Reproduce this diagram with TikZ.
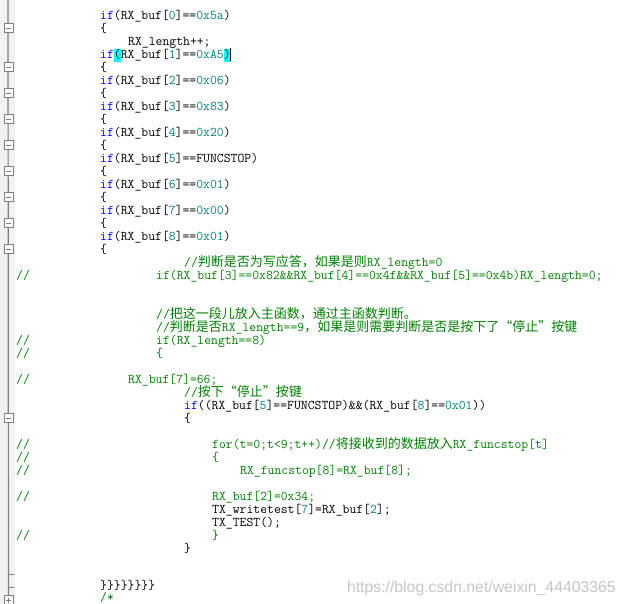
\documentclass[tikz,border=0pt]{standalone}
\usepackage{fontspec}
\newfontfamily\zhfont{Noto Sans CJK SC}[Scale=0.975]
\newfontfamily\wmfont{Liberation Sans}
\usetikzlibrary{positioning}

\definecolor{kwblue}{RGB}{0,0,255}
\definecolor{numteal}{RGB}{0,128,128}
\definecolor{cmtgreen}{RGB}{0,128,0}
\definecolor{hlcyan}{RGB}{0,255,255}
\definecolor{gutterline}{RGB}{128,128,128}
\definecolor{gutterbg}{RGB}{242,242,242}

\newcommand{\kw}[1]{\textcolor{kwblue}{#1}}
\newcommand{\nm}[1]{\textcolor{numteal}{#1}}
\newcommand{\cmt}[1]{\textcolor{cmtgreen}{#1}}
\newcommand{\zh}[1]{{\zhfont #1}}
\newcommand{\hlb}[1]{{\setlength{\fboxsep}{0pt}\colorbox{hlcyan}{\rule[-3.5pt]{0pt}{13pt}#1}}}

\begin{document}
\begin{tikzpicture}[
    x=1pt, y=-1pt,
    code/.style={anchor=base west, inner sep=0pt, text height=9.5pt, text depth=2.5pt, font=\ttfamily\fontsize{13.333pt}{13pt}\selectfont},
    fold/.style={draw=gutterline, fill=white, line width=0.9pt, minimum size=9pt, inner sep=0pt,
        path picture={\draw[gutterline, line width=0.9pt] ([xshift=2pt]path picture bounding box.west) -- ([xshift=-2pt]path picture bounding box.east);}},
    unfold/.style={fold, path picture={\draw[gutterline, line width=0.9pt] ([xshift=2pt]path picture bounding box.west) -- ([xshift=-2pt]path picture bounding box.east) ([yshift=-2pt]path picture bounding box.north) -- ([yshift=2pt]path picture bounding box.south);}},
    watermark/.style={anchor=base east, inner sep=0pt, text=gray!45, font=\wmfont\fontsize{15.8pt}{16pt}\selectfont},
]
\useasboundingbox (0,0) rectangle (623,604);
\fill[white] (0,0) rectangle (623,604);

% Gutter
\fill[gutterbg] (0,0) rectangle (15,604);
\coordinate (guttertop) at (8,0);
\node[unfold] (f45) at (8.5,600) {};
\draw[gutterline, line width=1.2pt] (guttertop) -- (f45.north);
\node[fold] (f1) at (8.5,28) {};
\node[fold] (f4) at (8.5,67) {};
\node[fold] (f6) at (8.5,93) {};
\node[fold] (f8) at (8.5,119) {};
\node[fold] (f10) at (8.5,145) {};
\node[fold] (f12) at (8.5,171) {};
\node[fold] (f14) at (8.5,197) {};
\node[fold] (f16) at (8.5,223) {};
\node[fold] (f18) at (8.5,249) {};
\node[fold] (f31) at (8.5,418) {};
\coordinate (t43) at (8,574);
\coordinate (t44) at (8,587);
\draw[gutterline, line width=0.9pt] (t43) -- ++(6,0) (t44) -- ++(6,0);

% Code lines
\node[code] (l0) at (100,19.5) {\kw{if}(RX\_buf[\nm{0}]==\nm{0x5a})};
\node[code] (l1) at (100,32.5) {\{};
\node[code] (l2) at (128,45.5) {RX\_length++;};
\node[code] (l3) at (100,58.5) {\kw{if}\hlb{(}RX\_buf[\nm{1}]==\nm{0xA5}\hlb{)}};
\node[code] (l4) at (100,71.5) {\{};
\node[code] (l5) at (100,84.5) {\kw{if}(RX\_buf[\nm{2}]==\nm{0x06})};
\node[code] (l6) at (100,97.5) {\{};
\node[code] (l7) at (100,110.5) {\kw{if}(RX\_buf[\nm{3}]==\nm{0x83})};
\node[code] (l8) at (100,123.5) {\{};
\node[code] (l9) at (100,136.5) {\kw{if}(RX\_buf[\nm{4}]==\nm{0x20})};
\node[code] (l10) at (100,149.5) {\{};
\node[code] (l11) at (100,162.5) {\kw{if}(RX\_buf[\nm{5}]==FUNCSTOP)};
\node[code] (l12) at (100,175.5) {\{};
\node[code] (l13) at (100,188.5) {\kw{if}(RX\_buf[\nm{6}]==\nm{0x01})};
\node[code] (l14) at (100,201.5) {\{};
\node[code] (l15) at (100,214.5) {\kw{if}(RX\_buf[\nm{7}]==\nm{0x00})};
\node[code] (l16) at (100,227.5) {\{};
\node[code] (l17) at (100,240.5) {\kw{if}(RX\_buf[\nm{8}]==\nm{0x01})};
\node[code] (l18) at (100,253.5) {\{};
\node[code] (l19) at (184,266.5) {\cmt{//\zh{判断是否为写应答，如果是则}RX\_length=0}};
\node[code] (c20) at (16,279.5) {\cmt{//}};
\node[code] (l20) at (156,279.5) {\cmt{if(RX\_buf[3]==0x82\&\&RX\_buf[4]==0x4f\&\&RX\_buf[5]==0x4b)RX\_length=0;}};
\node[code] (l23) at (156,318.5) {\cmt{//\zh{把这一段儿放入主函数，通过主函数判断。}}};
\node[code] (l24) at (156,331.5) {\cmt{//\zh{判断是否}RX\_length==9\zh{，如果是则需要判断是否是按下了“停止”按键}}};
\node[code] (c25) at (16,344.5) {\cmt{//}};
\node[code] (l25) at (156,344.5) {\cmt{if(RX\_length==8)}};
\node[code] (c26) at (16,357.5) {\cmt{//}};
\node[code] (l26) at (156,357.5) {\cmt{\{}};
\node[code] (c28) at (16,383.5) {\cmt{//}};
\node[code] (l28) at (128,383.5) {\cmt{RX\_buf[7]=66;}};
\node[code] (l29) at (184,396.5) {\cmt{//\zh{按下“停止”按键}}};
\node[code] (l30) at (184,409.5) {\kw{if}((RX\_buf[\nm{5}]==FUNCSTOP)\&\&(RX\_buf[\nm{8}]==\nm{0x01}))};
\node[code] (l31) at (184,422.5) {\{};
\node[code] (c33) at (16,448.5) {\cmt{//}};
\node[code] (l33) at (212,448.5) {\cmt{for(t=0;t<9;t++)//\zh{将接收到的数据放入}RX\_funcstop[t]}};
\node[code] (c34) at (16,461.5) {\cmt{//}};
\node[code] (l34) at (212,461.5) {\cmt{\{}};
\node[code] (c35) at (16,474.5) {\cmt{//}};
\node[code] (l35) at (240,474.5) {\cmt{RX\_funcstop[8]=RX\_buf[8];}};
\node[code] (c37) at (16,500.5) {\cmt{//}};
\node[code] (l37) at (212,500.5) {\cmt{RX\_buf[2]=0x34;}};
\node[code] (l38) at (212,513.5) {TX\_writetest[\nm{7}]=RX\_buf[\nm{2}];};
\node[code] (l39) at (212,526.5) {TX\_TEST();};
\node[code] (c40) at (16,539.5) {\cmt{//}};
\node[code] (l40) at (212,539.5) {\cmt{\}}};
\node[code] (l41) at (184,552.5) {\}};
\node[code] (l44) at (100,589) {\}\}\}\}\}\}\}\}};
\node[code] (l45) at (100,601) {\cmt{/*}};

% Cursor
\draw[line width=1pt] ([yshift=-2.5pt]l3.base east) -- ([yshift=10.5pt]l3.base east);

% Watermark
\node[watermark] (mark) at (616,592) {https://blog.csdn.net/weixin\_44403365};

\end{tikzpicture}
\end{document}
